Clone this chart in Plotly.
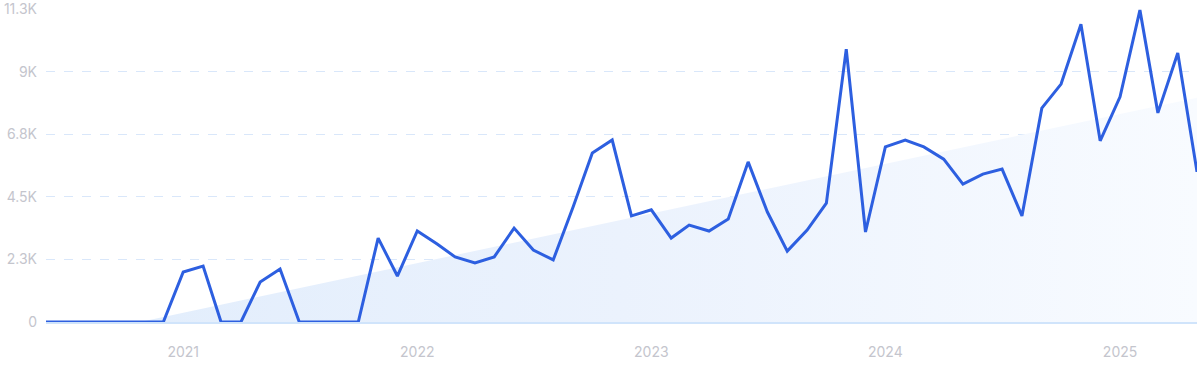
import plotly.graph_objects as go
import pandas as pd

months = pd.date_range("2020-06-01", "2025-05-01", freq="MS")

values = [
    0, 0, 0, 0, 0, 0, 0,            # Jun-Dec 2020
    1805, 2020, 0, 0, 1445, 1915, 0, 0, 0, 0, 3030, 1660,   # 2021
    3285, 2815, 2350, 2130, 2350, 3390, 2600, 2240, 4150, 6100, 6570, 3830,  # 2022
    4050, 3030, 3500, 3285, 3720, 5780, 3970, 2560, 3320, 4290, 9850, 3250,  # 2023
    6320, 6570, 6320, 5880, 4980, 5340, 5520, 3830, 7720, 8590, 10750, 6540, # 2024
    8130, 11260, 7550, 9710, 5420,  # 2025
]

trend_dates = ["2020-06-01", "2025-05-01"]
trend_values = [-720, 8100]

y_ticks = [0, 2260, 4520, 6780, 9040, 11300]
y_labels = ["0", "2.3K", "4.5K", "6.8K", "9K", "11.3K"]
x_ticks = ["2021-01-01", "2022-01-01", "2023-01-01", "2024-01-01", "2025-01-01"]
x_labels = ["2021", "2022", "2023", "2024", "2025"]

fig = go.Figure()
fig.add_trace(go.Scatter(
    x=trend_dates, y=trend_values, mode="lines",
    line=dict(width=0, color="rgba(0,0,0,0)"),
    fill="tozeroy",
    fillgradient=dict(type="horizontal",
                      colorscale=[[0, "#e1edfc"], [0.5, "#ebf2fd"], [1, "#f8fbff"]]),
    hoverinfo="skip", showlegend=False,
))
fig.add_trace(go.Scatter(
    x=months, y=values, mode="lines",
    line=dict(color="#2d5fe0", width=3),
    cliponaxis=False, showlegend=False,
))

fig.update_layout(
    width=1200, height=371,
    margin=dict(l=46, r=3, t=9, b=49),
    paper_bgcolor="white", plot_bgcolor="white",
    font=dict(family="Inter, Roboto, sans-serif", size=14, color="#c4c5cd"),
    xaxis=dict(
        range=["2020-06-01", "2025-05-01"],
        tickvals=x_ticks, ticktext=x_labels,
        showgrid=False, zeroline=False,
        showline=True, linecolor="#d0e4fb", linewidth=1.5,
        ticks="", ticklabelstandoff=16, automargin=False,
    ),
    yaxis=dict(
        range=[0, 11300.5],
        tickvals=y_ticks, ticktext=y_labels,
        showgrid=True, gridcolor="#d9e7fa", griddash="dash", gridwidth=1,
        zeroline=False, showline=False, ticks="", ticklabelstandoff=8,
        automargin=False, ticklabeloverflow="allow",
    ),
)

fig.write_html("out.html", config={"displayModeBar": False},
               post_script="document.body.style.margin='0';")
